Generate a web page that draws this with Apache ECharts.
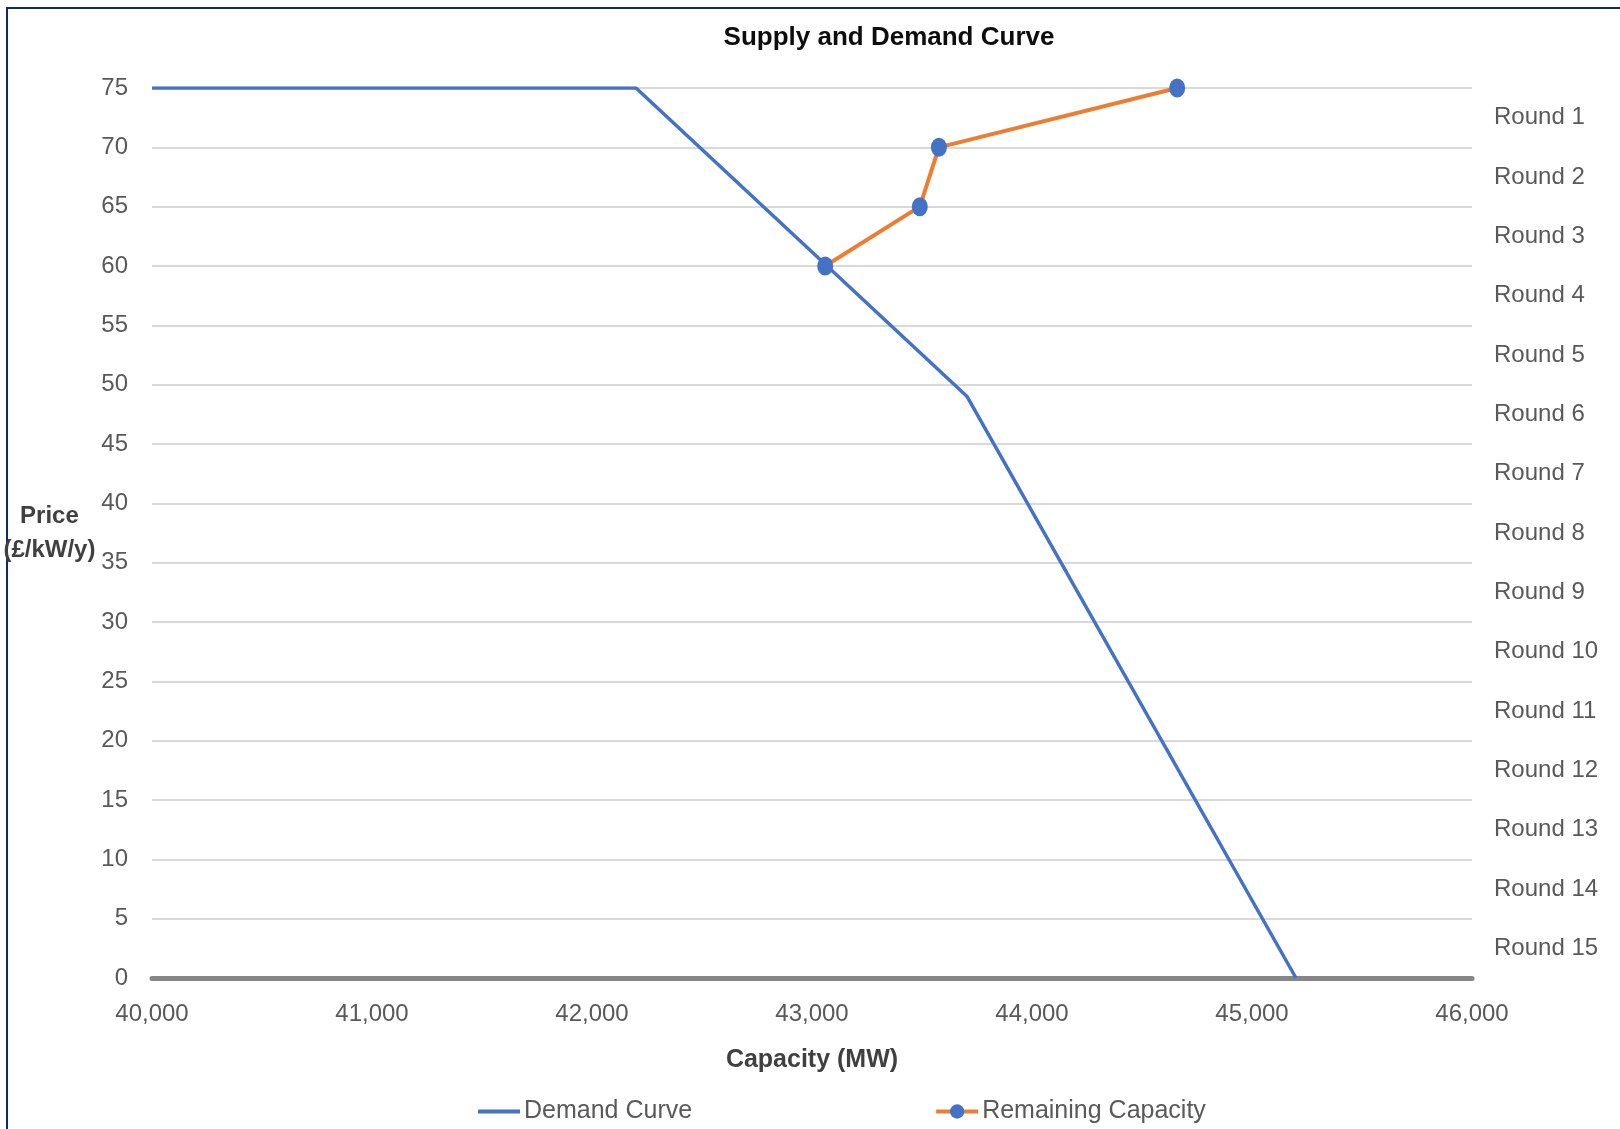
<!DOCTYPE html>
<html>
<head>
<meta charset="utf-8">
<title>Supply and Demand Curve</title>
<script src="https://cdn.jsdelivr.net/npm/echarts@6/dist/echarts.min.js"></script>
<style>
  html, body { margin: 0; padding: 0; background: #ffffff; }
  #chart { width: 1620px; height: 1129px; }
</style>
</head>
<body>
<div id="chart"></div>
<script>
// Demand curve: capacity (MW) against clearing price (£/kW/y)
const demandCapacity = [40000, 42200, 43705, 45200];
const demandPrice = [75, 75, 49, 0];

// Remaining capacity at the end of each auction round
const remainingCapacity = [43060, 43490, 43577, 44660];
const remainingPrice = [60, 65, 70, 75];

// Round labels shown down the right-hand side
const roundLabels = ['Round 1', 'Round 2', 'Round 3', 'Round 4', 'Round 5', 'Round 6', 'Round 7',
  'Round 8', 'Round 9', 'Round 10', 'Round 11', 'Round 12', 'Round 13', 'Round 14', 'Round 15'];

// Price ticks
const priceMin = 0, priceMax = 75, priceStep = 5;
// Capacity ticks
const capMin = 40000, capMax = 46000, capStep = 1000;

const FONT = '"Liberation Sans Narrow", "Arial Narrow", "Liberation Sans", Arial, sans-serif';
const TEXT = '#595959';
const BLUE = '#4472c4';
const ORANGE = '#ed7d31';

const chart = echarts.init(document.getElementById('chart'), null, { renderer: 'canvas' });

chart.setOption({
  backgroundColor: '#ffffff',
  animation: false,
  textStyle: { fontFamily: FONT },
  title: {
    text: 'Supply and Demand Curve',
    left: 884,
    top: 20,
    textAlign: 'center',
    textStyle: { fontFamily: FONT, fontWeight: 'bold', fontSize: 26, color: '#0d0d0d' }
  },
  graphic: [
    { type: 'line', shape: { x1: 6, y1: 8, x2: 1620, y2: 8 }, style: { stroke: '#0f2a6b', lineWidth: 2 }, silent: true },
    { type: 'line', shape: { x1: 7, y1: 7, x2: 7, y2: 1129 }, style: { stroke: '#0f2a6b', lineWidth: 2 }, silent: true }
  ],
  legend: {
    bottom: 0,
    left: 473,
    itemGap: 242,
    itemWidth: 42,
    itemHeight: 18,
    textStyle: { fontFamily: FONT, fontSize: 25, color: TEXT, padding: [0, 0, 0, -1] },
    data: [
      { name: 'Demand Curve', icon: 'path://M0,0H42V4H0Z', itemStyle: { color: BLUE } },
      { name: 'Remaining Capacity', lineStyle: { width: 4 } }
    ]
  },
  grid: { left: 152, right: 148, top: 88, bottom: 151, containLabel: false, outerBoundsMode: 'none' },
  xAxis: {
    type: 'value',
    min: capMin,
    max: capMax,
    interval: capStep,
    name: 'Capacity (MW)',
    nameLocation: 'middle',
    nameGap: 70,
    nameTextStyle: { fontFamily: FONT, fontWeight: 'bold', fontSize: 25, color: '#404040' },
    axisLine: { show: true, onZero: false, lineStyle: { color: '#868686', width: 5 } },
    axisTick: { show: false },
    splitLine: { show: false },
    axisLabel: {
      margin: 24,
      fontSize: 24,
      color: TEXT,
      fontFamily: FONT,
      formatter: v => v.toLocaleString('en-GB')
    }
  },
  yAxis: [
    {
      type: 'value',
      min: priceMin,
      max: priceMax,
      interval: priceStep,
      name: 'Price\n(£/kW/y)',
      nameLocation: 'middle',
      nameRotate: 0,
      nameGap: 100,
      nameTextStyle: { fontFamily: FONT, fontWeight: 'bold', fontSize: 24, color: '#404040', lineHeight: 34, align: 'center' },
      axisLine: { show: false },
      axisTick: { show: false },
      splitLine: { show: true, lineStyle: { color: '#d9d9d9', width: 2 } },
      axisLabel: { margin: 24, fontSize: 24, color: TEXT, fontFamily: FONT }
    },
    {
      type: 'category',
      position: 'right',
      inverse: true,
      data: roundLabels,
      boundaryGap: true,
      axisLine: { show: false },
      axisTick: { show: false },
      splitLine: { show: false },
      axisLabel: { margin: 22, fontSize: 24, color: TEXT, fontFamily: FONT, align: 'left' }
    }
  ],
  series: [
    {
      name: 'Demand Curve',
      type: 'line',
      yAxisIndex: 0,
      data: demandCapacity.map((c, i) => [c, demandPrice[i]]),
      symbol: 'none',
      lineStyle: { color: BLUE, width: 3.5 },
      itemStyle: { color: BLUE },
      z: 2
    },
    {
      name: 'Remaining Capacity',
      type: 'line',
      yAxisIndex: 0,
      data: remainingCapacity.map((c, i) => [c, remainingPrice[i]]),
      symbol: 'circle',
      symbolSize: [16, 19],
      showSymbol: true,
      lineStyle: { color: ORANGE, width: 4 },
      itemStyle: { color: BLUE, borderWidth: 0 },
      z: 3
    }
  ]
});
</script>
</body>
</html>
